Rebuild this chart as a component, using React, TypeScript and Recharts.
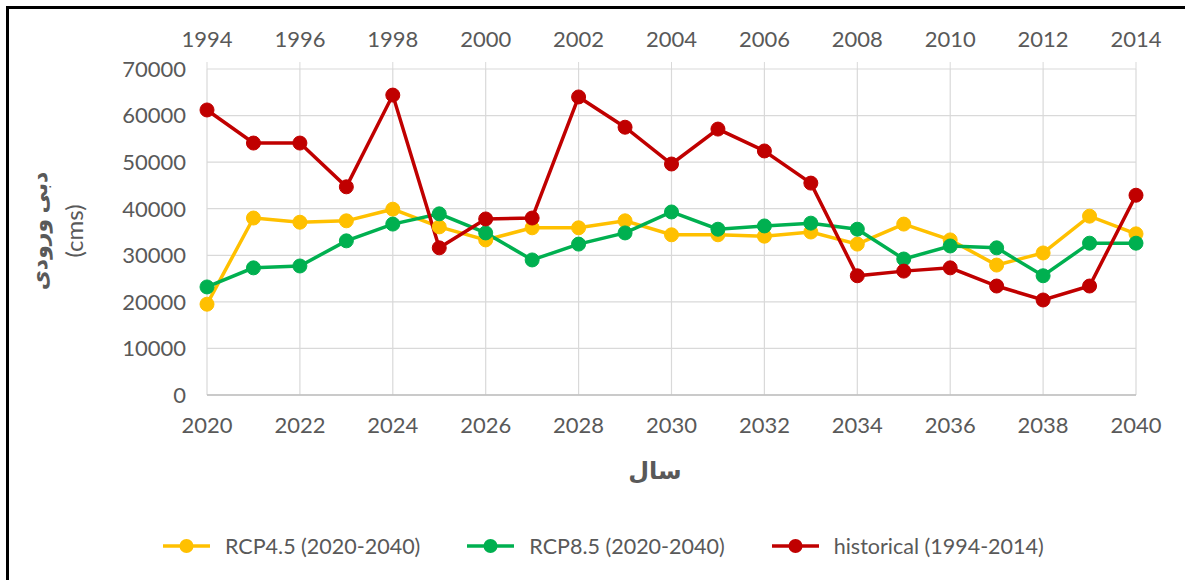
import { LineChart, Line, XAxis, YAxis, CartesianGrid } from "recharts";

const years = [
  2020, 2021, 2022, 2023, 2024, 2025, 2026, 2027, 2028, 2029, 2030, 2031, 2032,
  2033, 2034, 2035, 2036, 2037, 2038, 2039, 2040,
];
const histYears = [
  1994, 1995, 1996, 1997, 1998, 1999, 2000, 2001, 2002, 2003, 2004, 2005, 2006,
  2007, 2008, 2009, 2010, 2011, 2012, 2013, 2014,
];
const rcp45 = [
  19500, 38000, 37100, 37400, 39900, 36100, 33300, 35900, 35900, 37400, 34400,
  34400, 34100, 35000, 32400, 36700, 33300, 27900, 30500, 38400, 34600,
];
const rcp85 = [
  23200, 27300, 27700, 33100, 36700, 38900, 34800, 29000, 32400, 34800, 39300,
  35600, 36300, 36900, 35600, 29200, 32000, 31600, 25600, 32600, 32600,
];
const historical = [
  61200, 54100, 54100, 44700, 64400, 31600, 37800, 38000, 64000, 57500, 49600,
  57100, 52400, 45500, 25600, 26600, 27300, 23400, 20400, 23400, 42900,
];

const bottomTicks = [2020, 2022, 2024, 2026, 2028, 2030, 2032, 2034, 2036, 2038, 2040];
const topTicks = [1994, 1996, 1998, 2000, 2002, 2004, 2006, 2008, 2010, 2012, 2014];
const yTicks = [0, 10000, 20000, 30000, 40000, 50000, 60000, 70000];

const series = [
  { key: "rcp45", name: "RCP4.5 (2020-2040)", color: "#FFC000" },
  { key: "rcp85", name: "RCP8.5 (2020-2040)", color: "#00B050" },
  { key: "historical", name: "historical (1994-2014)", color: "#C00000" },
];

const data = years.map((y, i) => ({
  year: y,
  histYear: histYears[i],
  rcp45: rcp45[i],
  rcp85: rcp85[i],
  historical: historical[i],
}));

const font = "Lato, 'DejaVu Sans', sans-serif";
const tickStyle = { fill: "#595959", fontSize: 22, fontFamily: font };

// legend is plain html below the plot, so it does not eat plot height
const LegendBox = () => (
  <div
    style={{
      position: "absolute",
      left: 163,
      top: 533,
      display: "flex",
      alignItems: "center",
      fontFamily: font,
      fontSize: 21.5,
      color: "#595959",
      whiteSpace: "nowrap",
    }}
  >
    {series.map((s) => (
      <div key={s.key} style={{ display: "flex", alignItems: "center", marginRight: 47 }}>
        <svg width={47} height={18} style={{ marginRight: 15 }}>
          <line x1={0} y1={9} x2={47} y2={9} stroke={s.color} strokeWidth={3.5} />
          <circle cx={23.5} cy={9} r={7} fill={s.color} />
        </svg>
        <span>{s.name}</span>
      </div>
    ))}
  </div>
);

const YTitle = () => {
  const cy = 231;
  return (
    <g>
      <text
        x={38}
        y={cy}
        transform={`rotate(-90 38 ${cy})`}
        textAnchor="middle"
        dominantBaseline="central"
        fill="#595959"
        fontSize={22}
        fontWeight="bold"
        fontFamily={font}
      >
        دبی ورودی
      </text>
      <text
        x={73}
        y={cy}
        transform={`rotate(-90 73 ${cy})`}
        textAnchor="middle"
        dominantBaseline="central"
        fill="#595959"
        fontSize={24}
        fontFamily={font}
      >
        (cms)
      </text>
    </g>
  );
};

const XTitle = () => (
  <text x={655} y={469} textAnchor="middle" dominantBaseline="central" fill="#595959" fontSize={24} fontWeight="bold" fontFamily={font}>
    سال
  </text>
);

export default function App() {
  return (
    <div style={{ position: "absolute", left: 0, top: 0, width: 1185, height: 580, overflow: "hidden", background: "#fff" }}>
      <div
        style={{
          position: "absolute",
          left: 6,
          top: 6,
          width: 1179,
          height: 574,
          boxSizing: "border-box",
          borderTop: "3px solid #000",
          borderLeft: "3px solid #000",
        }}
      />
      <div style={{ position: "absolute", left: 0, top: 0 }}>
        <LineChart width={1185} height={580} data={data} margin={{ top: 19, right: 49, left: 107, bottom: 155 }}>
          <CartesianGrid xAxisId="bottom" stroke="#d9d9d9" strokeWidth={1.2} />
          <XAxis
            xAxisId="bottom"
            dataKey="year"
            type="number"
            domain={[2020, 2040]}
            ticks={bottomTicks}
            orientation="bottom"
            height={30}
            axisLine={{ stroke: "#bfbfbf", strokeWidth: 1.5 }}
            tickLine={false}
            tickSize={0}
            tickMargin={22}
            tick={tickStyle}
            label={<XTitle />}
          />
          <XAxis
            xAxisId="top"
            dataKey="histYear"
            type="number"
            domain={[1994, 2014]}
            ticks={topTicks}
            orientation="top"
            height={50}
            axisLine={false}
            tickLine={{ stroke: "#d9d9d9" }}
            tickSize={7}
            tickMargin={15}
            tick={tickStyle}
          />
          <YAxis
            type="number"
            domain={[0, 70000]}
            ticks={yTicks}
            width={100}
            axisLine={false}
            tickLine={false}
            tickSize={0}
            tickMargin={21}
            tick={tickStyle}
            label={<YTitle />}
          />
          {series.map((s) => (
            <Line
              key={s.key}
              xAxisId="bottom"
              dataKey={s.key}
              name={s.name}
              stroke={s.color}
              strokeWidth={3.5}
              dot={{ r: 7, fill: s.color, stroke: s.color, strokeWidth: 1 }}
              activeDot={false}
              isAnimationActive={false}
            />
          ))}
        </LineChart>
      </div>
      <LegendBox />
    </div>
  );
}
